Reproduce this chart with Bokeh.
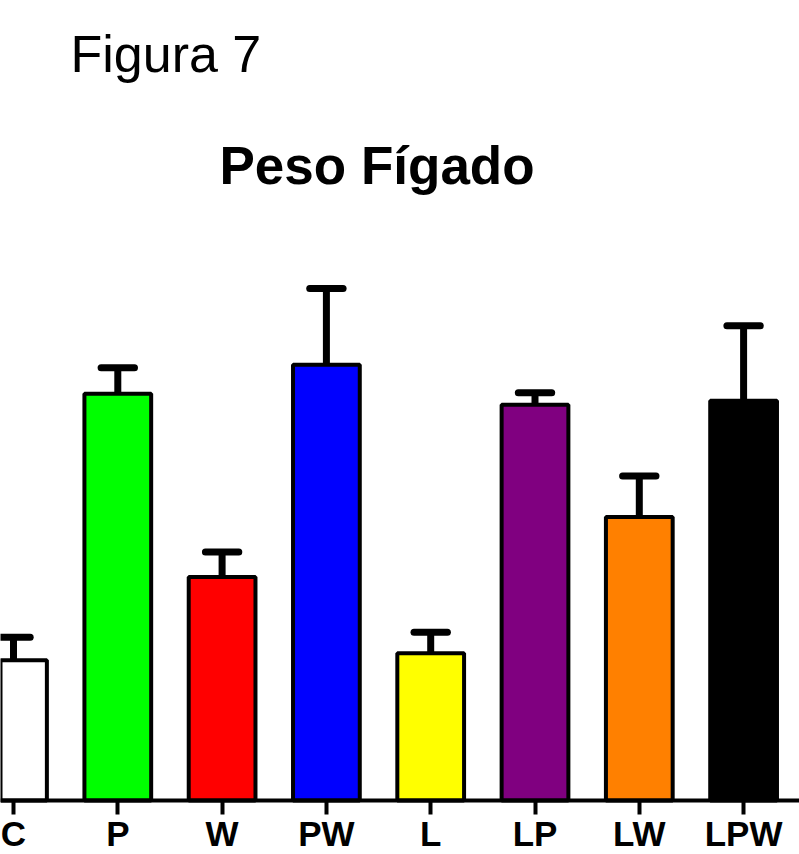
from bokeh.plotting import figure
from bokeh.models import Range1d, LinearAxis, FixedTicker, Title
from bokeh.embed import file_html
from bokeh.resources import INLINE

categories = ["C", "P", "W", "PW", "L", "LP", "LW", "LPW"]
means = [1.40, 4.06, 2.23, 4.35, 1.47, 3.95, 2.83, 3.99]
errors = [0.23, 0.26, 0.25, 0.76, 0.21, 0.12, 0.41, 0.75]
colors = ["#FFFFFF", "#00FF00", "#FF0000", "#0000FF", "#FFFF00", "#800080", "#FF8000", "#000000"]

xs = list(range(len(categories)))
tops = [m + e for m, e in zip(means, errors)]
cap_half = 0.16

W, H = 799, 854
FRAME_TOP = 224
BASE = 800

p = figure(width=W, height=H, output_backend="svg", toolbar_location=None,
           x_axis_location=None, y_axis_location=None,
           min_border_left=0, min_border_right=0, min_border_bottom=0, min_border_top=0,
           title="Figura 7")
p.title.text_font = "Liberation Sans"
p.title.text_font_size = "52px"
p.title.text_font_style = "normal"
p.title.text_color = "black"
p.title.align = "left"
p.title.offset = 70
p.title.standoff = 44

sub_title = Title(text="Peso Fígado", text_font="Liberation Sans", text_font_size="53px",
                  text_font_style="bold", text_color="black", align="left",
                  offset=219, standoff=58)
p.add_layout(sub_title, "above")

p.x_range = Range1d(-13 / 104.3, (W - 13) / 104.3)
p.y_range = Range1d(-(H - BASE) / 100.0, (BASE - FRAME_TOP) / 100.0)
p.xgrid.visible = False
p.ygrid.visible = False
p.outline_line_color = None
p.background_fill_color = "white"
p.border_fill_color = "white"

p.vbar(x=xs, top=means, bottom=0, width=0.64, fill_color=colors,
       line_color="black", line_width=4)
p.segment(x0=xs, y0=means, x1=xs, y1=tops, line_color="black", line_width=7)
p.segment(x0=[x - cap_half for x in xs], y0=tops, x1=[x + cap_half for x in xs], y1=tops,
          line_color="black", line_width=7, line_cap="round")

ax = LinearAxis(fixed_location=0)
ax.ticker = FixedTicker(ticks=xs)
ax.major_label_overrides = {i: c for i, c in zip(xs, categories)}
ax.axis_line_width = 4
ax.axis_line_color = "black"
ax.major_tick_line_width = 4
ax.major_tick_out = 14
ax.major_tick_in = 0
ax.minor_tick_line_color = None
ax.major_label_standoff = 0
ax.major_label_text_font = "Liberation Sans"
ax.major_label_text_font_size = "35px"
ax.major_label_text_font_style = "bold"
ax.major_label_text_color = "black"
p.add_layout(ax, "below")

open("out.html", "w").write(file_html(p, INLINE))
